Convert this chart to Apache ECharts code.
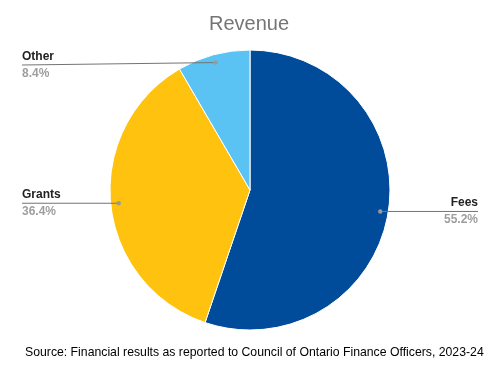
<!DOCTYPE html>
<html><head><meta charset="utf-8">
<script src="https://cdn.jsdelivr.net/npm/echarts@6/dist/echarts.min.js"></script>
<style>html,body{margin:0;padding:0;background:#fff}#c{width:498px;height:369px}</style>
</head><body><div id="c"></div>
<script>
const categories = ['Fees', 'Grants', 'Other'];
const values = [55.2, 36.4, 8.4];
const colors = ['#004c9b', '#ffc20e', '#5bc3f3'];
const titleText = 'Revenue';
const sourceText = 'Source: Financial results as reported to Council of Ontario Finance Officers, 2023-24';

const CX = 250, CY = 190, R = 140, DOT_R = 132;
const LEFT_EDGE = 22, RIGHT_EDGE = 478, MIN_LABEL_Y = 65;
const total = values.reduce((a, b) => a + b, 0);
let cum = 0;
const dots = values.map(v => {
  const mid = (cum + v / 2) / total * 2 * Math.PI;
  cum += v;
  return [CX + DOT_R * Math.sin(mid), CY - DOT_R * Math.cos(mid)];
});
const guides = dots.map(d => {
  const right = d[0] > CX;
  return {x: right ? RIGHT_EDGE : LEFT_EDGE, y: Math.max(d[1], MIN_LABEL_Y), right: right};
});

const chart = echarts.init(document.getElementById('c'), null, {renderer: 'canvas'});
const graphics = [];
dots.forEach((d, i) => {
  graphics.push({type: 'polyline', shape: {points: [[d[0], d[1]], [guides[i].x, guides[i].y]]},
    style: {stroke: '#737373', lineWidth: 1, fill: null}, z: 100});
  graphics.push({type: 'circle', shape: {cx: d[0], cy: d[1], r: 2.2}, style: {fill: '#999'}, z: 101});
});
chart.setOption({
  animation: false,
  textStyle: {fontFamily: 'Liberation Sans, Arial, sans-serif'},
  title: [
    {text: titleText, left: 'center', top: 9,
     textStyle: {fontSize: 20, fontWeight: 'normal', color: '#757575', fontFamily: 'Liberation Sans, Arial, sans-serif'}},
    {text: sourceText, left: 20, top: 342,
     textStyle: {fontSize: 12.25, fontWeight: 'normal', color: '#000', fontFamily: 'Liberation Sans, Arial, sans-serif'}}
  ],
  series: [{
    type: 'pie',
    center: [CX, CY],
    radius: [0, R],
    startAngle: 90,
    clockwise: true,
    avoidLabelOverlap: false,
    data: categories.map((c, i) => ({name: c, value: values[i], itemStyle: {color: colors[i]}})),
    itemStyle: {borderColor: '#fff', borderWidth: 1},
    label: {
      show: true,
      position: 'outside',
      formatter: p => '{n|' + p.name + '}\n{p|' + values[p.dataIndex].toFixed(1) + '%}',
      rich: {
        n: {fontWeight: 'bold', color: '#222', fontSize: 12, lineHeight: 17, fontFamily: 'Liberation Sans, Arial, sans-serif'},
        p: {fontWeight: 'bold', color: '#9e9e9e', fontSize: 12, lineHeight: 17, fontFamily: 'Liberation Sans, Arial, sans-serif'}
      }
    },
    labelLine: {show: false},
    labelLayout: function (params) {
      const g = guides[params.dataIndex];
      return {x: g.x, y: g.y, align: g.right ? 'right' : 'left', verticalAlign: 'middle'};
    }
  }],
  graphic: graphics
});
</script>
</body></html>
